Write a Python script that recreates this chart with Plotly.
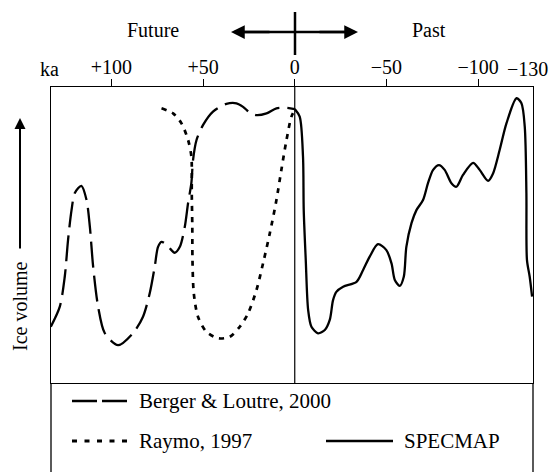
import plotly.graph_objects as go

# Time in ka: positive = future, negative = past. Ice volume in arbitrary units.
berger_ka = [133.1, 128.2, 125.5, 123.7, 121.8, 120.0, 116.4, 113.6, 111.8, 110.0,
             107.3, 103.7, 96.4, 88.2, 82.8, 79.1, 76.4, 74.6, 72.7, 69.8, 67.3,
             65.5, 62.7, 60.0, 58.2, 56.4, 55.5, 53.6, 50.0, 44.6, 37.3, 31.8,
             28.2, 24.5, 20.9, 15.4, 10.0, 4.5, 0.0]
berger_ice = [19.0, 25.8, 35.9, 48.3, 58.4, 64.2, 66.6, 61.8, 52.8, 39.3,
              25.8, 16.9, 12.8, 16.9, 22.4, 30.4, 39.3, 46.0, 47.7, 46.6, 44.9,
              44.0, 46.0, 52.8, 60.8, 67.6, 75.3, 82.1, 87.2, 91.7, 94.3, 94.5,
              93.3, 91.3, 90.5, 91.1, 92.8, 93.0, 92.5]

raymo_ka = [72.7, 66.4, 61.8, 58.2, 56.4, 56.2, 55.9, 55.8, 55.1, 52.8, 48.2,
            41.8, 35.5, 30.0, 25.5, 20.9, 17.3, 13.6, 10.0, 7.3, 4.5, 1.8, 0.0]
raymo_ice = [92.8, 91.1, 87.7, 82.1, 76.5, 64.2, 52.8, 41.6, 30.4, 22.4, 17.3,
             15.1, 15.6, 19.0, 23.5, 31.4, 40.4, 50.6, 61.8, 72.0, 82.1, 90.0, 92.2]

specmap_ka = [0.0, -2.7, -4.5, -4.9, -6.0, -7.3, -9.1, -12.7, -16.4, -19.1, -20.9,
              -22.7, -26.4, -33.7, -37.3, -40.9, -45.4, -50.0, -52.8, -54.6, -57.3,
              -59.5, -60.9, -63.7, -66.4, -70.0, -72.7, -75.5, -78.7, -81.8, -85.5,
              -88.2, -91.8, -97.3, -100.9, -105.5, -108.2, -111.8, -115.5, -121.0,
              -123.7, -125.5, -126.4, -126.7, -128.2, -129.5]
specmap_ice = [92.6, 90.0, 76.5, 58.4, 41.6, 24.7, 19.0, 16.8, 17.9, 21.3, 28.0,
               30.8, 32.5, 34.2, 38.2, 42.7, 46.9, 44.9, 40.4, 34.8, 32.8,
               35.9, 46.0, 54.0, 58.4, 61.8, 67.5, 72.0, 73.6, 72.0, 67.5,
               66.3, 70.3, 74.4, 72.0, 68.3, 70.8, 78.7, 87.7, 96.2,
               94.5, 86.6, 64.1, 41.6, 35.9, 29.2]

tick_vals = [100, 50, 0, -50, -100]
tick_text = ["+100", "+50", "0", "\u221250", "\u2212100"]

FONT = "Liberation Serif"
FS = 20

fig = go.Figure()
fig.add_trace(go.Scatter(x=berger_ka, y=berger_ice, mode="lines",
                         line=dict(color="black", width=2.3, dash="26px,8px",
                                   shape="spline", smoothing=0.8),
                         name="Berger & Loutre, 2000"))
fig.add_trace(go.Scatter(x=raymo_ka, y=raymo_ice, mode="lines",
                         line=dict(color="black", width=2.7, dash="5px,6px",
                                   shape="spline", smoothing=0.8),
                         name="Raymo, 1997"))
fig.add_trace(go.Scatter(x=specmap_ka, y=specmap_ice, mode="lines",
                         line=dict(color="black", width=2.3,
                                   shape="spline", smoothing=0.8),
                         name="SPECMAP"))

L, R, T, B = 51, 20, 87, 89
W, H = 553, 472
pw, ph = W - L - R, H - T - B


def px(xp):
    return (xp - L) / pw


def py(yp):
    return (H - B - yp) / ph


shapes = [
    # present-day line through the plot
    dict(type="line", xref="x", yref="paper", x0=0, x1=0, y0=0, y1=1,
         line=dict(color="black", width=1.2)),
    # vertical bar of the Future/Past cross
    dict(type="line", xref="paper", yref="paper", x0=px(295), x1=px(295),
         y0=py(55), y1=py(12), line=dict(color="black", width=2.5)),
    # horizontal bar of the cross
    dict(type="line", xref="paper", yref="paper", x0=px(240), x1=px(349),
         y0=py(32), y1=py(32), line=dict(color="black", width=2.5)),
    # legend frame sides
    dict(type="line", xref="paper", yref="paper", x0=0, x1=0, y0=0, y1=-0.32,
         line=dict(color="black", width=1.3)),
    dict(type="line", xref="paper", yref="paper", x0=1, x1=1, y0=0, y1=-0.32,
         line=dict(color="black", width=1.3)),
    # legend samples
    dict(type="line", xref="paper", yref="paper", x0=px(72), x1=px(127),
         y0=py(401), y1=py(401), line=dict(color="black", width=2.5, dash="25px,5px")),
    dict(type="line", xref="paper", yref="paper", x0=px(72), x1=px(127),
         y0=py(441), y1=py(441), line=dict(color="black", width=2.8, dash="5px,7.5px")),
    dict(type="line", xref="paper", yref="paper", x0=px(326), x1=px(393),
         y0=py(441), y1=py(441), line=dict(color="black", width=2.3)),
]

txt = dict(family=FONT, size=FS, color="black")
leg = dict(family=FONT, size=21, color="black")
annotations = [
    dict(x=px(49), y=py(69), xref="paper", yref="paper", text="ka",
         showarrow=False, font=txt, xanchor="center", yanchor="middle"),
    dict(x=px(527), y=py(69), xref="paper", yref="paper", text="\u2212130",
         showarrow=False, font=txt, xanchor="center", yanchor="middle"),
    dict(x=px(153), y=py(30), xref="paper", yref="paper", text="Future",
         showarrow=False, font=txt, xanchor="center", yanchor="middle"),
    dict(x=px(429), y=py(30), xref="paper", yref="paper", text="Past",
         showarrow=False, font=txt, xanchor="center", yanchor="middle"),
    # arrowheads of the Future/Past cross
    dict(x=px(358), y=py(32), xref="paper", yref="paper", text="",
         showarrow=True, ax=-40, ay=0, arrowhead=2, arrowsize=1.1,
         arrowwidth=2.5, arrowcolor="black"),
    dict(x=px(231), y=py(32), xref="paper", yref="paper", text="",
         showarrow=True, ax=40, ay=0, arrowhead=2, arrowsize=1.1,
         arrowwidth=2.5, arrowcolor="black"),
    # ice volume arrow and label
    dict(x=px(20), y=py(118), xref="paper", yref="paper", text="",
         showarrow=True, ax=0, ay=132, arrowhead=2, arrowsize=1.1,
         arrowwidth=2, arrowcolor="black"),
    dict(x=px(20), y=py(306), xref="paper", yref="paper", text="Ice volume",
         showarrow=False, font=txt, textangle=-90, xanchor="center", yanchor="middle"),
    # legend text
    dict(x=px(137), y=py(401), xref="paper", yref="paper", text="Berger & Loutre, 2000",
         showarrow=False, font=leg, xanchor="left", yanchor="middle"),
    dict(x=px(137), y=py(441), xref="paper", yref="paper", text="Raymo, 1997",
         showarrow=False, font=leg, xanchor="left", yanchor="middle"),
    dict(x=px(402), y=py(441), xref="paper", yref="paper", text="SPECMAP",
         showarrow=False, font=leg, xanchor="left", yanchor="middle"),
]

fig.update_layout(
    width=W, height=H,
    margin=dict(l=L, r=R, t=T, b=B, pad=0),
    paper_bgcolor="white", plot_bgcolor="white",
    showlegend=False,
    font=txt,
    shapes=shapes,
    annotations=annotations,
    xaxis=dict(side="top", range=[133, -130], tickvals=tick_vals, ticktext=tick_text,
               ticks="outside", ticklen=7, tickwidth=1.3, tickcolor="black",
               ticklabelstandoff=-3,
               showline=True, mirror=True, linecolor="black", linewidth=1.3,
               showgrid=False, zeroline=False, tickfont=txt, fixedrange=True),
    yaxis=dict(range=[0, 100], showline=True, mirror=True, linecolor="black",
               linewidth=1.3, showgrid=False, zeroline=False, showticklabels=False,
               ticks="", fixedrange=True),
)

fig.write_html("out.html")
